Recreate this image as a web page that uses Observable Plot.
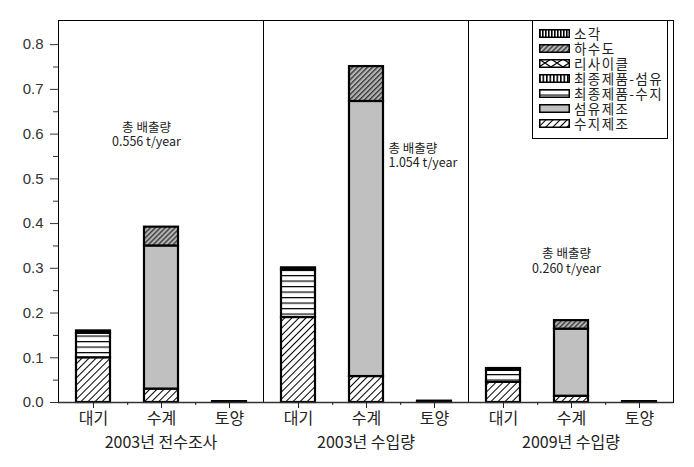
<!DOCTYPE html>
<html>
<head>
<meta charset="utf-8">
<script src="https://cdn.jsdelivr.net/npm/d3@7"></script>
<script src="https://cdn.jsdelivr.net/npm/@observablehq/plot@0.6"></script>
<style>
  html, body { margin: 0; padding: 0; background: #fff; }
  #wrap { position: relative; width: 694px; height: 467px; }
  #legend { position: absolute; left: 532px; top: 20px; width: 134px; height: 112px;
    border: 1px solid #000; background: #fff; box-sizing: content-box; padding-top: 5px; }
  .row { height: 15px; display: flex; align-items: center; overflow: visible; }
  .row svg { margin-left: 6px; margin-right: 4px; flex: none; }
  .row span { display: inline-block; height: 15px; overflow: visible; font-family: "Noto Sans CJK KR", sans-serif; font-size: 13.5px; letter-spacing: 1.4px; color: #222; white-space: nowrap; line-height: 15px; }
</style>
</head>
<body>
<svg width="0" height="0" style="position:absolute">
  <defs>
    <pattern id="p-sogak" width="3" height="3" patternUnits="userSpaceOnUse">
      <rect width="3" height="3" fill="#fff"/><rect width="1.6" height="3" fill="#000"/>
    </pattern>
    <pattern id="p-hasudo" width="3.5" height="3.5" patternUnits="userSpaceOnUse" patternTransform="rotate(45)">
      <rect width="3.5" height="3.5" fill="#b4b4b4"/><rect width="1.3" height="3.5" fill="#333"/>
    </pattern>
    <pattern id="p-recycle" width="12" height="8" patternUnits="userSpaceOnUse">
      <rect width="12" height="8" fill="#fff"/>
      <path d="M0,0L12,8M0,8L12,0" stroke="#000" stroke-width="1.2"/>
    </pattern>
    <pattern id="p-fiberprod" width="3.5" height="3" patternUnits="userSpaceOnUse">
      <rect width="3.5" height="3" fill="#fff"/><rect width="1.6" height="3" fill="#000"/>
    </pattern>
    <pattern id="p-resinprod" width="6" height="5.5" patternUnits="userSpaceOnUse">
      <rect width="6" height="5.5" fill="#fff"/><rect y="0" width="6" height="1.2" fill="#000"/>
    </pattern>
    <pattern id="p-resin" width="5" height="5" patternUnits="userSpaceOnUse" patternTransform="rotate(45)">
      <rect width="5" height="5" fill="#fff"/><rect width="1" height="5" fill="#000"/>
    </pattern>
  </defs>
</svg>
<div id="wrap"></div>
<script>
// ---- data ----
const groups = ["2003년 전수조사", "2003년 수입량", "2009년 수입량"];
const media = ["대기", "수계", "토양"];
const legendOrder = ["소각", "하수도", "리사이클", "최종제품-섬유", "최종제품-수지", "섬유제조", "수지제조"];
const stackOrder = ["수지제조", "섬유제조", "최종제품-수지", "최종제품-섬유", "리사이클", "하수도", "소각"];
// values per source, ordered group by group: [대기, 수계, 토양] x 3 groups (t/year)
const v수지제조     = [0.100, 0.030, 0,     0.190, 0.058, 0,     0.045, 0.014, 0];
const v섬유제조     = [0,     0.320, 0,     0,     0.615, 0,     0,     0.150, 0];
const v최종제품수지 = [0.055, 0,     0,     0.106, 0,     0,     0.027, 0,     0];
const v최종제품섬유 = [0,     0,     0,     0,     0,     0,     0,     0,     0];
const v리사이클     = [0,     0,     0,     0,     0,     0,     0,     0,     0];
const v하수도       = [0,     0.042, 0,     0,     0.078, 0,     0,     0.019, 0];
const v소각         = [0.005, 0,     0.002, 0.005, 0,     0.003, 0.004, 0,     0.002];
const totals = ["0.556 t/year", "1.054 t/year", "0.260 t/year"];
const yTicks = [0, 0.1, 0.2, 0.3, 0.4, 0.5, 0.6, 0.7, 0.8];
const yMinor = [0.05, 0.15, 0.25, 0.35, 0.45, 0.55, 0.65, 0.75];

const seriesValues = {
  "수지제조": v수지제조, "섬유제조": v섬유제조, "최종제품-수지": v최종제품수지,
  "최종제품-섬유": v최종제품섬유, "리사이클": v리사이클, "하수도": v하수도, "소각": v소각
};
const fills = {
  "소각": "url(#p-sogak)", "하수도": "url(#p-hasudo)", "리사이클": "url(#p-recycle)",
  "최종제품-섬유": "url(#p-fiberprod)", "최종제품-수지": "url(#p-resinprod)",
  "섬유제조": "#c0c0c0", "수지제조": "url(#p-resin)"
};

const rows = [];
groups.forEach((g, gi) => media.forEach((m, mi) => stackOrder.forEach(s => {
  const v = seriesValues[s][gi * 3 + mi];
  if (v > 0) rows.push({group: g, medium: m, source: s, value: v});
})));
const notes = groups.map((g, i) => ({group: g, text: "총 배출량\n" + totals[i]}));

const kr = "'Noto Sans CJK KR', sans-serif";
const chart = Plot.plot({
  width: 694, height: 467,
  marginLeft: 57, marginRight: 21, marginTop: 20, marginBottom: 65,
  style: {fontFamily: kr, background: "#fff", color: "#222"},
  fx: {domain: groups, padding: 0, axis: null, label: null},
  x: {domain: media, paddingInner: 0.5, paddingOuter: 0.25, axis: null, label: null},
  y: {domain: [0, 0.854], axis: null, label: null},
  color: {domain: stackOrder, range: stackOrder.map(s => fills[s])},
  marks: [
    Plot.barY(rows, Plot.stackY({order: stackOrder, fx: "group", x: "medium", y: "value", fill: "source", stroke: "#000", strokeWidth: 2.2})),
    Plot.frame({stroke: "#000", strokeWidth: 1}),
    Plot.axisY({ticks: yTicks, tickFormat: d3.format(".1f"), tickSize: 8, tickPadding: 7, fontSize: 15, fontFamily: "'Liberation Sans', Arial, sans-serif", stroke: "#333", fill: "#333", label: null}),
    Plot.axisY({ticks: yMinor, tickFormat: () => "", tickSize: 5, stroke: "#333", label: null}),
    Plot.ruleY([0], {stroke: "#333", strokeWidth: 1.5}),
    Plot.axisX({tickSize: 6, tickPadding: 4, fontSize: 16, stroke: "#222", fill: "#222", label: null}),
    Plot.axisX({ticks: ["대기", "수계"], tickFormat: () => "", tickSize: 3, dx: 34.2, stroke: "#222", label: null}),
    Plot.text(groups, {fx: d => d, text: d => d, frameAnchor: "bottom", dy: 45, fontSize: 16, fill: "#222"}),
    Plot.text(notes.filter((d, i) => i === 0), {fx: "group", x: () => "수계", y: () => 0.600, text: "text", dx: -15, fontSize: 12.5, lineHeight: 1.15, fill: "#222"}),
    Plot.text(notes.filter((d, i) => i === 1), {fx: "group", x: () => "수계", y: () => 0.552, text: "text", dx: 22, textAnchor: "start", fontSize: 12.5, lineHeight: 1.15, fill: "#222"}),
    Plot.text(notes.filter((d, i) => i === 2), {fx: "group", x: () => "수계", y: () => 0.317, text: "text", dx: -5, fontSize: 12.5, lineHeight: 1.15, fill: "#222"})
  ]
});
const wrap = document.getElementById("wrap");
wrap.appendChild(chart);

// legend
const legend = document.createElement("div");
legend.id = "legend";
legendOrder.forEach(s => {
  const row = document.createElement("div");
  row.className = "row";
  row.innerHTML = `<svg width="31" height="9"><rect x="0.75" y="0.75" width="29.5" height="7.5" fill="${fills[s]}" stroke="#000" stroke-width="1.5"/></svg><span>${s}</span>`;
  legend.appendChild(row);
});
wrap.appendChild(legend);
</script>
</body>
</html>
